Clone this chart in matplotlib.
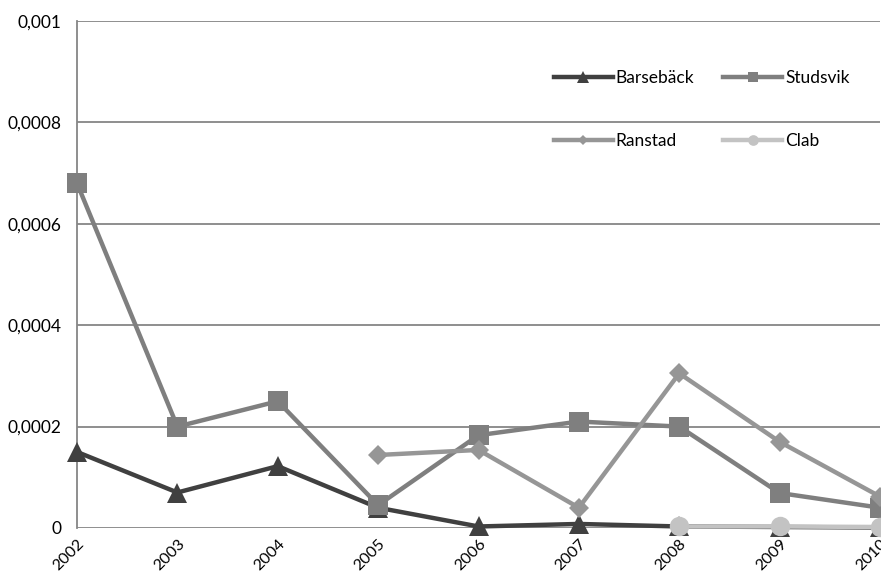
import matplotlib
matplotlib.use("Agg")
import matplotlib.pyplot as plt
from matplotlib.ticker import FuncFormatter

plt.rcParams["font.family"] = ["Lato", "DejaVu Sans"]

years = ["2002", "2003", "2004", "2005", "2006", "2007", "2008", "2009", "2010"]

barseback = [0.00015, 0.00007, 0.000122, 0.00004, 0.000003, 0.000008, 0.000003, 0.000002, 0.000001]
studsvik = [0.00068, 0.0002, 0.00025, 0.000045, 0.000183, 0.00021, 0.0002, 0.000069, 0.00004]
ranstad = [None, None, None, 0.000144, 0.000154, 0.00004, 0.000305, 0.00017, 0.000062]
clab = [None, None, None, None, None, None, 0.000003, 0.000003, 0.000002]

series = [
    ("Barsebäck", barseback, "#404040", "^", 15),
    ("Studsvik", studsvik, "#7f7f7f", "s", 14),
    ("Ranstad", ranstad, "#969696", "D", 10),
    ("Clab", clab, "#c3c3c3", "o", 14),
]

fig = plt.figure(figsize=(8.81, 5.79), dpi=100)
ax = fig.add_axes([77 / 881, 1 - 528 / 579, 803 / 881, 507 / 579])

x = list(range(len(years)))
handles = {}
for i, (name, vals, color, marker, ms) in enumerate(series):
    xs = [xi for xi, v in zip(x, vals) if v is not None]
    ys = [v for v in vals if v is not None]
    (h,) = ax.plot(xs, ys, color=color, linewidth=3.2, marker=marker,
                   markersize=ms, markeredgewidth=0, label=name,
                   zorder=3 + i, clip_on=False)
    handles[name] = h

ax.set_xlim(0, len(years) - 1)
ax.set_ylim(0, 0.001)
ax.set_yticks([0, 0.0002, 0.0004, 0.0006, 0.0008, 0.001])
ax.yaxis.set_major_formatter(FuncFormatter(
    lambda v, _: "0" if v == 0 else f"{v:.4f}".rstrip("0").replace(".", ",")))
ax.set_xticks(x)
ax.set_xticklabels(years, rotation=45, ha="right", rotation_mode="anchor")
ax.tick_params(axis="both", length=0, labelsize=12.5, colors="black")
ax.tick_params(axis="x", pad=6, labelsize=11.5)
ax.tick_params(axis="y", pad=11)

ax.grid(axis="y", color="#868686", linewidth=1.3)
ax.set_axisbelow(True)
for side in ["top", "right", "bottom"]:
    ax.spines[side].set_visible(False)
ax.spines["left"].set_color("#868686")
ax.spines["left"].set_linewidth(1.3)

order = ["Barsebäck", "Ranstad", "Studsvik", "Clab"]
leg = ax.legend([handles[n] for n in order], order, ncol=2, frameon=False,
                loc="upper left", bbox_to_anchor=(0.574, 0.935),
                fontsize=12.5, handlelength=3.4, labelspacing=2.75,
                columnspacing=1.7, handletextpad=0.15, markerscale=0.55)

fig.savefig("out.png", dpi=100)
